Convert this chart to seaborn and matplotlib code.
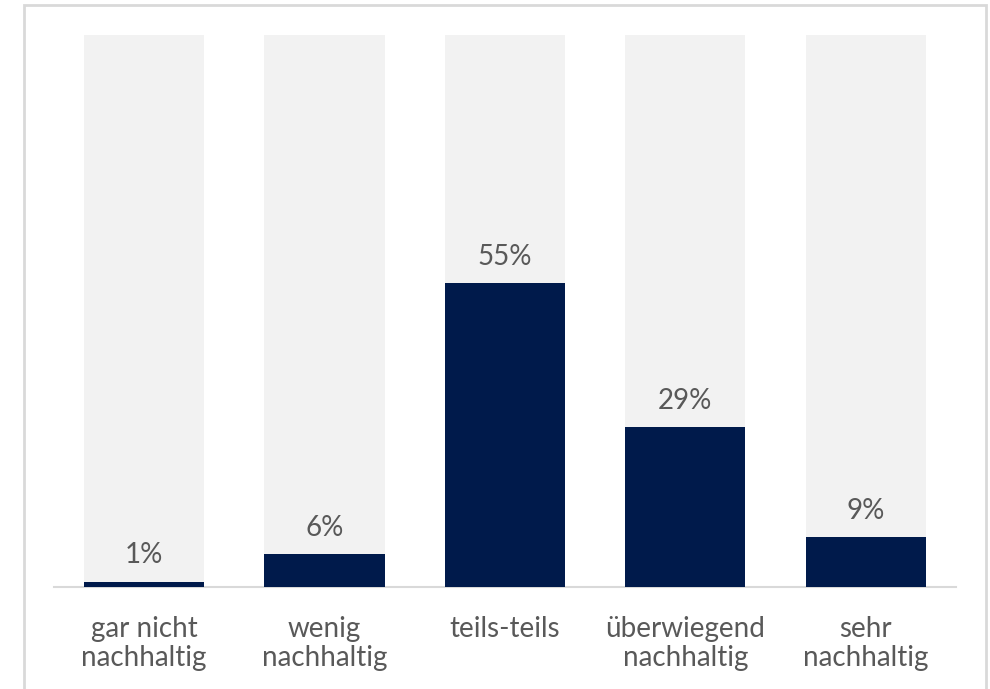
import matplotlib
matplotlib.use("Agg")
import matplotlib.pyplot as plt
import seaborn as sns
import pandas as pd
from matplotlib.patches import Rectangle

categories = ["gar nicht\nnachhaltig", "wenig\nnachhaltig", "teils-teils",
              "überwiegend\nnachhaltig", "sehr\nnachhaltig"]
shares = [1, 6, 55, 29, 9]
full_scale = [100, 100, 100, 100, 100]

NAVY = "#001A4B"
TRACK = "#F2F2F2"
TEXT = "#595959"
LINE = "#D9D9D9"

sns.set_theme(style="white")
plt.rcParams["font.family"] = ["Lato", "DejaVu Sans"]

df = pd.DataFrame({"Kategorie": categories, "Anteil": shares, "Gesamt": full_scale})

fig = plt.figure(figsize=(9.9, 6.89), dpi=100)
ax = fig.add_axes([0.0545, 0.148, 0.911, 0.801])

# light track behind each bar (100 %)
sns.barplot(data=df, x="Kategorie", y="Gesamt", color=TRACK, width=0.666,
            saturation=1, ax=ax, edgecolor="none", linewidth=0)
# actual shares
sns.barplot(data=df, x="Kategorie", y="Anteil", color=NAVY, width=0.666,
            saturation=1, ax=ax, edgecolor="none", linewidth=0)

ax.bar_label(ax.containers[1], labels=[f"{v}%" for v in shares],
             padding=9.5, fontsize=20, color=TEXT)

ax.set_ylim(0, 100)
ax.set_xlim(-0.5, 4.5)
ax.set_xlabel("")
ax.set_ylabel("")
ax.set_yticks([])
ax.tick_params(axis="x", length=0, pad=21, labelsize=20, labelcolor=TEXT)
for lbl in ax.get_xticklabels():
    lbl.set_linespacing(1.12)
for side in ["top", "right", "left"]:
    ax.spines[side].set_visible(False)
ax.spines["bottom"].set_color(LINE)
ax.spines["bottom"].set_linewidth(1.5)
ax.spines["bottom"].set_zorder(0)

# frame around the chart area
fig.patches.append(Rectangle((24 / 990, -0.05), (986 - 24) / 990, 1.05 - 5 / 689,
                             transform=fig.transFigure, fill=False,
                             edgecolor=LINE, linewidth=2.0))

fig.savefig("out.png", dpi=100, facecolor="white")
